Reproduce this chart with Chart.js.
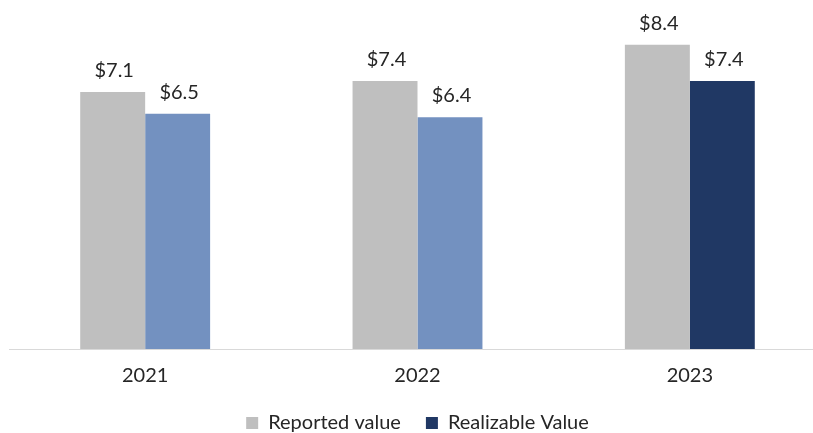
<!DOCTYPE html>
<html>
<head>
<meta charset="utf-8">
<script src="https://cdn.jsdelivr.net/npm/chart.js@4.4.1/dist/chart.umd.min.js"></script>
<style>
  html, body { margin: 0; padding: 0; background: #ffffff; overflow: hidden; }
  #wrap { position: relative; width: 830px; height: 433px; }
</style>
</head>
<body>
<div id="wrap"><canvas id="c"></canvas></div>
<script>
const categories = ['2021', '2022', '2023'];
const reportedValues = [7.1, 7.4, 8.4];
const realizableValues = [6.5, 6.4, 7.4];
const seriesNames = ['Reported value', 'Realizable Value'];

const FONT = 'Lato, "Open Sans", sans-serif';
const TEXT = '#262626';
const GRAY = '#bfbfbf';
const LIGHTBLUE = '#7391c0';
const NAVY = '#203864';

const valueLabels = {
  id: 'valueLabels',
  afterDatasetsDraw(chart) {
    const ctx = chart.ctx;
    ctx.save();
    ctx.font = '20px ' + FONT;
    ctx.fillStyle = TEXT;
    ctx.textAlign = 'center';
    ctx.textBaseline = 'alphabetic';
    chart.data.datasets.forEach((ds, di) => {
      const meta = chart.getDatasetMeta(di);
      meta.data.forEach((bar, i) => {
        ctx.fillText('$' + ds.data[i].toFixed(1), bar.x + 1.5, bar.y - 15);
      });
    });
    ctx.restore();
  }
};

new Chart(document.getElementById('c'), {
  type: 'bar',
  data: {
    labels: categories,
    datasets: [
      { label: seriesNames[0], data: reportedValues, backgroundColor: GRAY, borderWidth: 0 },
      { label: seriesNames[1], data: realizableValues, backgroundColor: [LIGHTBLUE, LIGHTBLUE, NAVY], borderWidth: 0 }
    ]
  },
  options: {
    responsive: true,
    maintainAspectRatio: false,
    animation: false,
    layout: { padding: { left: 9, right: 4, top: 5, bottom: 0 } },
    datasets: { bar: { categoryPercentage: 0.477, barPercentage: 1.0 } },
    scales: {
      x: {
        grid: { display: false, drawTicks: false },
        border: { display: true, color: '#d9d9d9', width: 1 },
        ticks: { color: TEXT, font: { family: FONT, size: 20 }, padding: 15 },
        afterFit(scale) { scale.height = 39; }
      },
      y: {
        display: false,
        min: 0,
        max: 9.5
      }
    },
    plugins: {
      legend: {
        position: 'bottom',
        maxHeight: 45,
        labels: {
          color: TEXT,
          font: { family: FONT, size: 20 },
          boxWidth: 12,
          boxHeight: 12,
          padding: 25,
          generateLabels(chart) {
            return chart.data.datasets.map((ds, i) => ({
              text: ds.label,
              fillStyle: i === 0 ? GRAY : NAVY,
              strokeStyle: i === 0 ? GRAY : NAVY,
              lineWidth: 0,
              fontColor: TEXT,
              hidden: false,
              datasetIndex: i
            }));
          }
        }
      },
      tooltip: { enabled: false }
    }
  },
  plugins: [valueLabels]
});
</script>
</body>
</html>
